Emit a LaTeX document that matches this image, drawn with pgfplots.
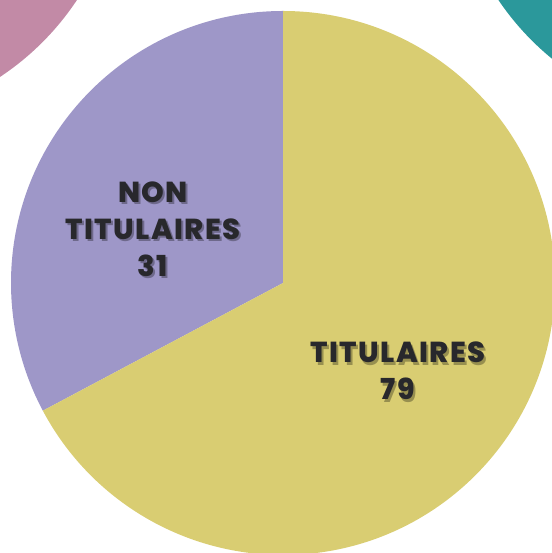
\documentclass[border=0pt]{standalone}
\usepackage{pgfplots}
\pgfplotsset{compat=1.18}
\usepackage{fontspec}
\setmainfont{Poppins}[BoldFont={* Bold}]
\newfontfamily\lblfont{Poppins ExtraBold}[LetterSpace=5]

\definecolor{cNon}{RGB}{158,151,200}
\definecolor{cTit}{RGB}{217,205,114}
\definecolor{cPink}{RGB}{194,138,166}
\definecolor{cTeal}{RGB}{43,152,155}
\definecolor{cTxt}{RGB}{40,40,44}

% values shown on the chart
\def\valNon{31}
\def\valTit{79}
% split of the pie as drawn in the reference (degrees)
\def\splitAngle{208}

\newcommand{\shadowlabel}[2]{%
  \node[text=black, opacity=0.3, align=center, font=\lblfont\fontsize{29}{37}\selectfont] at ([xshift=2bp,yshift=-2.5bp]#1) {#2};
  \node[text=cTxt, align=center, font=\lblfont\fontsize{29}{37}\selectfont] at (#1) {#2};
}

\begin{document}
\begin{tikzpicture}
\begin{axis}[
  width=552bp, height=553bp, scale only axis,
  xmin=0, xmax=552, ymin=0, ymax=553,
  hide axis, clip=true,
]
% neighbouring pies, cut by the frame
\fill[cPink] (axis cs:-150,703) circle[radius=272];
\fill[cTeal] (axis cs:724,705) circle[radius=272];
% the pie
\fill[cNon] (axis cs:283,270) -- (axis cs:283,542)
  arc[start angle=90, end angle=\splitAngle, radius=272bp] -- cycle;
\fill[cTit] (axis cs:283,270) -- (axis cs:283,542)
  arc[start angle=90, end angle=\splitAngle-360, radius=272bp] -- cycle;
\shadowlabel{axis cs:153,324}{NON\\TITULAIRES\\\valNon}
\shadowlabel{axis cs:398,182}{TITULAIRES\\\valTit}
\end{axis}
\end{tikzpicture}
\end{document}
